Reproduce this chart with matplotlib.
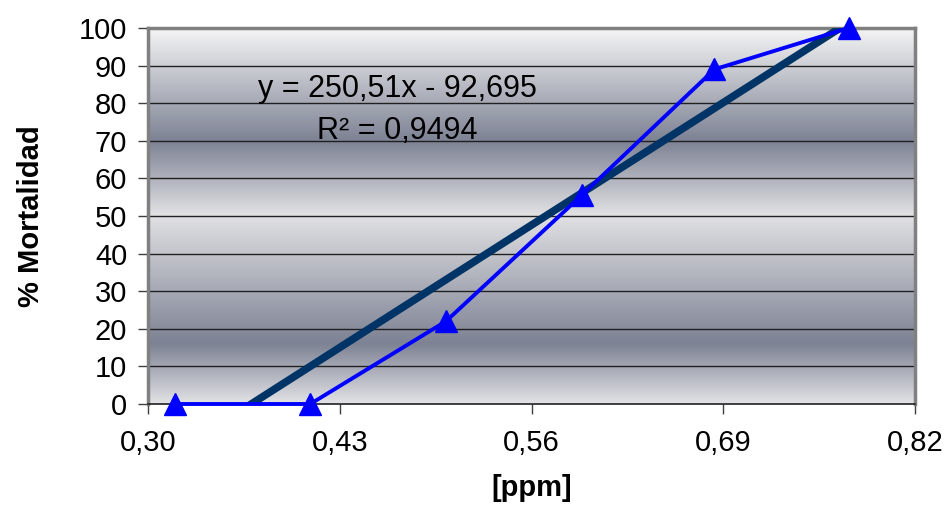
import numpy as np
import matplotlib
matplotlib.use("Agg")
import matplotlib.pyplot as plt

plt.rcParams['font.family'] = ['Liberation Sans', 'DejaVu Sans']

# data
dose_ppm = [0.318, 0.410, 0.502, 0.594, 0.684, 0.775]
mortality = [0, 0, 22, 55.5, 89, 100]

# trendline as printed on the chart
slope = 250.51
intercept = -92.695
eq_text = "y = 250,51x - 92,695"
r2_text = "R² = 0,9494"

x_ticks = [0.30, 0.43, 0.56, 0.69, 0.82]
x_tick_labels = ["0,30", "0,43", "0,56", "0,69", "0,82"]
y_ticks = list(range(0, 101, 10))

fig = plt.figure(figsize=(9.46, 5.12), dpi=100)
ax = fig.add_axes([148 / 946, 108 / 512, 767 / 946, 376 / 512])

# banded gray gradient background (light - dark - light, twice)
stops_v = [0, 16, 50, 50.5, 70, 100]
light = np.array([0.96, 0.96, 0.96])
dark = np.array([0.49, 0.51, 0.58])
stop_cols = [np.array([0.89, 0.89, 0.90]), dark, np.array([0.88, 0.88, 0.89]),
             np.array([0.88, 0.88, 0.89]), dark, light]
vv = np.linspace(0, 100, 400)
grad = np.zeros((400, 1, 3))
for c in range(3):
    grad[:, 0, c] = np.interp(vv, stops_v, [s[c] for s in stop_cols])
ax.imshow(grad, extent=[0.30, 0.82, 0, 100], origin='lower', aspect='auto', zorder=0,
          interpolation='bilinear')

for y in y_ticks[1:-1]:
    ax.axhline(y, color='#202020', lw=1.0, zorder=1)

xs = np.array([min(dose_ppm), max(dose_ppm)])
ax.plot(xs, slope * xs + intercept, color='#003366', lw=5.5, zorder=3,
        solid_capstyle='butt')
ax.plot(dose_ppm, mortality, color='#0000ff', lw=2.8, marker='^', ms=16,
        markerfacecolor='#0000ff', markeredgecolor='#0000ff', zorder=4, clip_on=False)

ax.text(0.469, 83.8, eq_text, fontsize=22, ha='center', va='center', zorder=5)
ax.text(0.469, 72.6, r2_text, fontsize=22, ha='center', va='center', zorder=5)

ax.set_xlim(0.30, 0.82)
ax.set_ylim(0, 100)
ax.set_xticks(x_ticks)
ax.set_xticklabels(x_tick_labels)
ax.set_yticks(y_ticks)
ax.tick_params(axis='both', labelsize=21, length=7, width=1, color='#404040')
ax.tick_params(axis='x', pad=11)
ax.tick_params(axis='y', pad=8)

for side in ['top', 'right', 'left']:
    ax.spines[side].set_color('#808080')
    ax.spines[side].set_linewidth(2.5)
ax.spines['bottom'].set_color('#202020')
ax.spines['bottom'].set_linewidth(1.2)

ax.set_xlabel("[ppm]", fontsize=21, fontweight='bold', labelpad=12)
ax.set_ylabel("% Mortalidad", fontsize=21, fontweight='bold', labelpad=24)

fig.savefig("out.png", dpi=100)
